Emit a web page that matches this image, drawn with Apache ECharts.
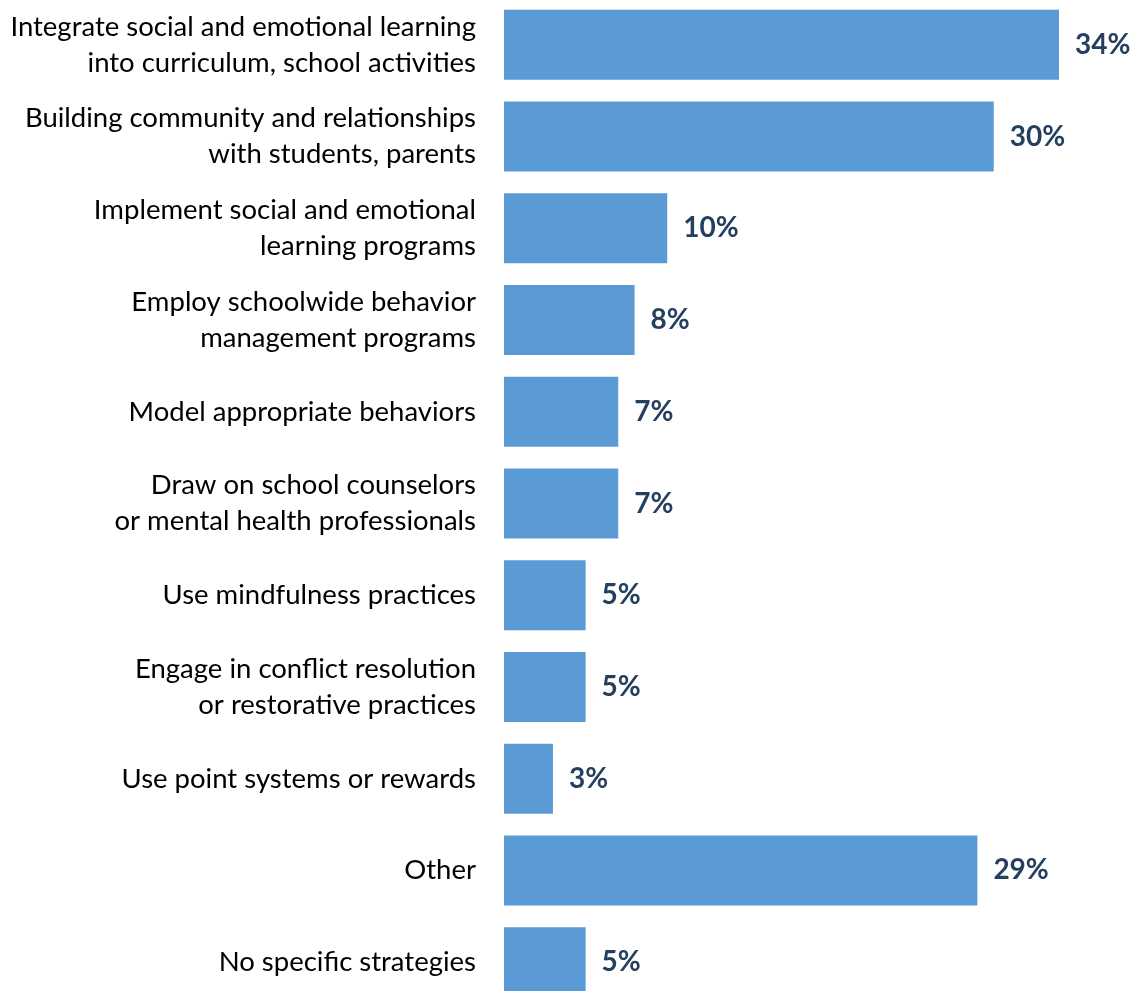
<!DOCTYPE html>
<html>
<head>
<meta charset="utf-8">
<style>
  html, body { margin: 0; padding: 0; background: #ffffff; }
  #chart { width: 1137px; height: 991px; }
</style>
<script src="https://cdn.jsdelivr.net/npm/echarts@6/dist/echarts.min.js"></script>
</head>
<body>
<div id="chart"></div>
<script>
// Strategies, listed top to bottom
const categories = [
  'Integrate social and emotional learning\ninto curriculum, school activities',
  'Building community and relationships\nwith students, parents',
  'Implement social and emotional\nlearning programs',
  'Employ schoolwide behavior\nmanagement programs',
  'Model appropriate behaviors',
  'Draw on school counselors\nor mental health professionals',
  'Use mindfulness practices',
  'Engage in conflict resolution\nor restorative practices',
  'Use point systems or rewards',
  'Other',
  'No specific strategies'
];
// Share of respondents (%)
const shares = [34, 30, 10, 8, 7, 7, 5, 5, 3, 29, 5];

const chart = echarts.init(document.getElementById('chart'));
chart.setOption({
  animation: false,
  // the plot runs slightly past the bottom edge, so the last bar is cut
  grid: {
    left: 504, width: 555, top: -1, height: 1009,
    containLabel: false,
    outerBoundsMode: 'none'
  },
  xAxis: {
    type: 'value', min: 0, max: 34,
    show: false
  },
  yAxis: {
    type: 'category',
    inverse: true,
    data: categories,
    axisLine: { show: false },
    axisTick: { show: false },
    axisLabel: {
      margin: 28,
      align: 'right',
      color: '#000000',
      fontFamily: 'Lato',
      fontSize: 27.5,
      lineHeight: 36
    }
  },
  series: [{
    type: 'bar',
    data: shares,
    barWidth: 70,
    itemStyle: { color: '#5B9BD5' },
    label: {
      show: true,
      position: 'right',
      distance: 16,
      formatter: p => p.value + '%',
      color: '#253F5E',
      fontFamily: 'Lato',
      fontWeight: 'bold',
      fontSize: 28
    }
  }]
});
</script>
</body>
</html>
